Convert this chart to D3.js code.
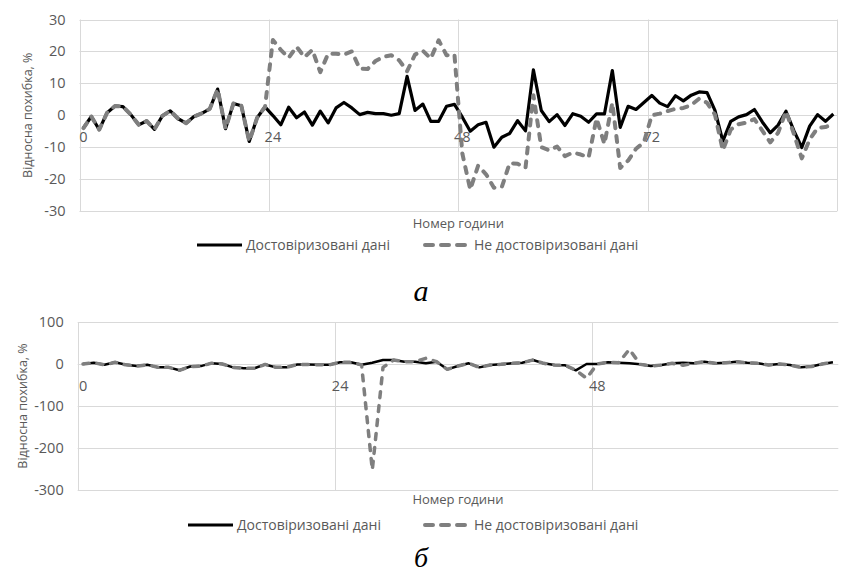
<!DOCTYPE html>
<html><head><meta charset="utf-8">
<script src="https://cdn.jsdelivr.net/npm/d3@7/dist/d3.min.js"></script>
<style>
body{margin:0;background:#fff}
text{font-family:"Open Sans","Noto Sans",sans-serif}
text.cap{font-family:"Liberation Serif","Times New Roman",serif;font-style:italic}
</style>
</head><body>
<svg id="c" width="842" height="576"></svg>
<script>
// ---------- DATA ----------
const hoursA = d3.range(96);
const hoursB = d3.range(71);
const seriesNames = ["Достовіризовані дані", "Не достовіризовані дані"];
const xTitle = "Номер години";
const yTitle = "Відносна похибка, %";
const captions = ["а", "б"];
const catLabelsA = [0, 24, 48, 72];
const catLabelsB = [0, 24, 48];
const yTicksA = [-30, -20, -10, 0, 10, 20, 30];
const yTicksB = [-300, -200, -100, 0, 100];

const validatedA = [-4,-0.4,-4.5,0.8,2.9,2.7,0.2,-3,-1.8,-4.4,
-0.2,1.4,-1.1,-2.5,-0.4,0.6,2,8.2,-4.2,3.7,
3,-8.2,-0.8,2.6,-0.1,-3,2.5,-0.8,1,-3.1,
1.3,-2.4,2.3,4,2.3,0.2,0.9,0.5,0.5,0,
0.5,12.2,1.5,3.5,-1.9,-1.9,2.8,3.4,-0.6,-5,
-3,-2.2,-10,-6.9,-5.7,-1.7,-4.9,14.2,1.5,-2,
0.2,-3.2,0.5,-0.3,-2.2,0.4,0.4,14,-3.8,2.8,
1.8,4,6.2,3.8,2.7,6.1,4.5,6.3,7.3,7.1,
1.5,-8.1,-1.9,-0.5,0.2,1.8,-2.1,-5.5,-3.1,1.25,
-4.8,-10.1,-3.4,0.2,-1.9,0.4];

const rawA = [-4,-0.4,-4.5,0.8,2.9,2.7,0.2,-3,-1.8,-4.4,
-0.2,1.4,-1.1,-2.5,-0.4,0.6,2,8.2,-4.2,3.7,
3,-8.2,-0.8,2.6,23.6,20.5,18,21.5,18.2,20.5,
13.5,19.3,19.3,19,20,14.6,14.5,17,18.3,18.8,
17.2,13.8,19,20.2,17.8,23.5,18.8,19,-12,-23.3,
-15.8,-18.5,-22.7,-22.5,-15,-15.2,-16.5,6.3,-10,-11,
-9.8,-12.8,-11.7,-12.3,-13.2,-1,-9,3.9,-16.5,-14.2,
-10.5,-8.5,0,0.5,1.3,2,2.3,3.2,5.2,3.9,
0.2,-11,-4.5,-2.8,-2.3,-1.2,-4.8,-8.5,-5.5,1.25,
-5.8,-13.5,-7.6,-4,-3.7,-2.8];

const validatedB = [0,3,-2,4,-2,-5,-2,-8,-8,-15,
-6,-5,2,0,-8,-10,-10,-1,-8,-8,
-1,-1,-2,-2,4,4,-2,3,9.5,9.5,
5.5,5.5,1.6,5.5,-12.7,-4.8,1.6,-8,-2.4,-0.8,
1.6,3,9.5,1.6,-2.4,-3,-15,0,0,4,
3,1.6,-0.8,-4.8,-2.4,1.6,3,1.6,5.5,1.6,
3,5.5,3,1.6,-2.4,0,-2.4,-8,-6,0,
4];

const rawB = [0,3,-2,4,-2,-5,-2,-8,-8,-15,
-6,-5,2,0,-8,-10,-10,-1,-8,-8,
-1,-1,-2,-2,4,4,-2,-252,-8,9.5,
5.5,5.5,13.5,5.5,-12.7,-4.8,1.6,-8,-2.4,-0.8,
1.6,3,9.5,1.6,-2.4,-3,-15,-34,0,4,
3,35,-0.8,-4.8,-2.4,1.6,-3,1.6,5.5,1.6,
3,5.5,3,1.6,-2.4,0,-2.4,-8,-6,0,
4];

// ---------- DRAW ----------
const svg = d3.select("#c");
const GRID = "#d9d9d9", TXT = "#595959";

function panel(o) {
  const x = d3.scaleBand().domain(o.cats).range([o.left, o.right]);
  const w = x.bandwidth();
  const y = d3.scaleLinear().domain(o.yDomain).range([o.bottom, o.top]);
  const g = svg.append("g");

  // horizontal gridlines
  g.selectAll("line.h").data(o.yTicks).join("line")
    .attr("x1", o.left).attr("x2", o.right)
    .attr("y1", d => Math.round(y(d)) + 0.5).attr("y2", d => Math.round(y(d)) + 0.5)
    .attr("stroke", GRID).attr("stroke-width", 1);
  // vertical gridlines at category boundaries
  const vx = o.catLabels.map(c => x(c));
  if (o.rightLine) vx.push(o.right);
  g.selectAll("line.v").data(vx).join("line")
    .attr("x1", d => Math.round(d) + 0.5).attr("x2", d => Math.round(d) + 0.5)
    .attr("y1", o.top).attr("y2", o.bottom)
    .attr("stroke", GRID).attr("stroke-width", 1);

  // y tick labels
  g.selectAll("text.yt").data(o.yTicks).join("text")
    .attr("x", o.left - 14).attr("y", d => y(d) + 5)
    .attr("text-anchor", "end").attr("fill", TXT).attr("font-size", 14.5)
    .text(d => d);
  // category labels
  g.selectAll("text.xt").data(o.catLabels).join("text")
    .attr("x", d => x(d) + w / 2).attr("y", y(0) + 27)
    .attr("text-anchor", "middle").attr("fill", TXT).attr("font-size", 14.5)
    .text(d => d);

  // y title
  g.append("text")
    .attr("transform", `translate(${o.yTitleX},${(o.top + o.bottom) / 2}) rotate(-90)`)
    .attr("text-anchor", "middle").attr("fill", TXT).attr("font-size", 12.5)
    .text(yTitle);
  // x title
  g.append("text").attr("x", (o.left + o.right) / 2).attr("y", o.xTitleY)
    .attr("text-anchor", "middle").attr("fill", TXT).attr("font-size", 13)
    .text(xTitle);

  const line = d3.line().x((d, i) => x(o.cats[i]) + w / 2).y(d => y(d));
  g.append("path").datum(o.solid).attr("d", line)
    .attr("fill", "none").attr("stroke", "#000").attr("stroke-width", o.sw)
    .attr("stroke-linejoin", "round");
  g.append("path").datum(o.dashed).attr("d", line)
    .attr("fill", "none").attr("stroke", "#7f7f7f").attr("stroke-width", o.dw)
    .attr("stroke-linejoin", "round").attr("stroke-linecap", "round")
    .attr("stroke-dasharray", o.dash);

  // legend
  const ly = o.legendY;
  g.append("line").attr("x1", o.lg[0]).attr("x2", o.lg[0] + 45).attr("y1", ly).attr("y2", ly)
    .attr("stroke", "#000").attr("stroke-width", 3);
  g.append("text").attr("x", o.lg[0] + 49).attr("y", ly + 5).attr("fill", TXT)
    .attr("font-size", 14).text(seriesNames[0]);
  g.append("line").attr("x1", o.lg[1] + 2).attr("x2", o.lg[1] + 44).attr("y1", ly).attr("y2", ly)
    .attr("stroke", "#7f7f7f").attr("stroke-width", 4).attr("stroke-linecap", "round")
    .attr("stroke-dasharray", "8,8");
  g.append("text").attr("x", o.lg[1] + 51).attr("y", ly + 5).attr("fill", TXT)
    .attr("font-size", 14).text(seriesNames[1]);

  // caption
  svg.append("text").attr("class", "cap").attr("x", 421).attr("y", o.capY)
    .attr("text-anchor", "middle").attr("font-size", o.capSize).attr("fill", "#000")
    .text(o.caption);
}

panel({
  cats: hoursA, catLabels: catLabelsA, yTicks: yTicksA, yDomain: [-30, 30],
  left: 79.5, right: 837.3, top: 19.5, bottom: 211, rightLine: true,
  solid: validatedA, dashed: rawA, sw: 3.2, dw: 4, dash: "6,8",
  yTitleX: 32, xTitleY: 228, legendY: 245, lg: [197, 423], capY: 301, capSize: 30, caption: captions[0]
});
panel({
  cats: hoursB, catLabels: catLabelsB, yTicks: yTicksB, yDomain: [-300, 100],
  left: 77.7, right: 838.3, top: 322, bottom: 490, rightLine: false,
  solid: validatedB, dashed: rawB, sw: 2.5, dw: 3.5, dash: "6,8",
  yTitleX: 27, xTitleY: 504, legendY: 525, lg: [188, 423], capY: 567, capSize: 28, caption: captions[1]
});
</script>
</body></html>
